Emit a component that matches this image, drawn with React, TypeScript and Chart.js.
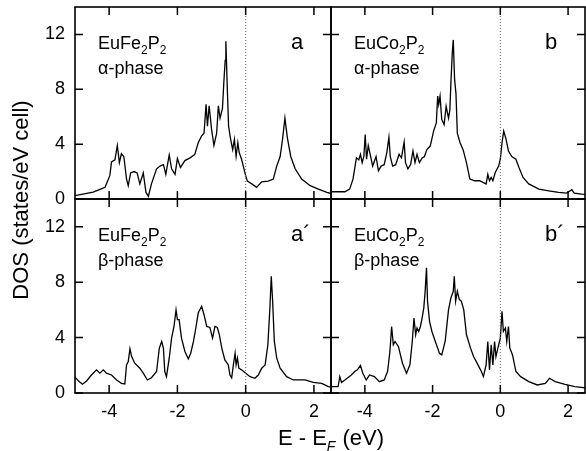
import React, { useEffect, useRef } from "react";
import { Chart, registerables } from "chart.js";

Chart.register(...registerables);

// ---------------- data ----------------
const xTickLabels = [-4, -2, 0, 2];
const yTickLabels = [0, 4, 8, 12];

const feFormula = ["EuFe", "2", "P", "2"];
const coFormula = ["EuCo", "2", "P", "2"];

// EuFe2P2 alpha-phase (a)
const feAlphaE = [-5.0,-4.47,-4.27,-4.12,-3.98,-3.93,-3.83,-3.76,-3.70,-3.64,-3.57,-3.49,-3.44,-3.37,-3.27,-3.18,-3.10,-3.00,-2.92,-2.85,-2.76,-2.61,-2.51,-2.41,-2.34,-2.24,-2.17,-2.07,-2.00,-1.91,-1.78,-1.63,-1.49,-1.39,-1.29,-1.22,-1.16,-1.12,-1.07,-1.00,-0.93,-0.85,-0.80,-0.75,-0.68,-0.64,-0.60,-0.58,-0.54,-0.50,-0.44,-0.38,-0.33,-0.28,-0.23,-0.19,-0.12,-0.05,0.00,0.05,0.18,0.32,0.47,0.66,0.81,0.91,1.01,1.08,1.15,1.22,1.32,1.45,1.64,1.89,2.13,2.38,2.50];
const feAlphaDos = [0.24,0.50,0.70,0.85,1.70,2.70,2.85,3.90,2.65,3.30,3.10,1.45,0.97,1.90,2.00,1.90,1.10,1.90,0.48,0.20,1.10,2.20,2.40,2.50,1.80,3.20,2.20,1.80,2.95,2.30,2.80,3.00,3.25,4.10,4.60,4.80,6.90,5.30,6.80,5.10,3.90,4.80,6.80,5.90,6.60,8.50,10.10,11.50,8.20,5.30,4.35,3.60,4.35,3.10,4.10,3.40,2.90,2.20,1.70,1.30,1.10,0.85,1.25,1.30,1.45,2.40,3.10,4.35,5.90,4.50,3.10,2.20,1.45,0.97,0.72,0.48,0.40];

// EuCo2P2 alpha-phase (b)
const coAlphaE = [-5.0,-4.59,-4.45,-4.35,-4.25,-4.18,-4.13,-4.08,-4.03,-3.99,-3.95,-3.90,-3.83,-3.77,-3.67,-3.60,-3.52,-3.43,-3.35,-3.29,-3.25,-3.18,-3.09,-2.99,-2.92,-2.84,-2.80,-2.73,-2.65,-2.58,-2.52,-2.46,-2.39,-2.31,-2.24,-2.17,-2.07,-1.97,-1.89,-1.85,-1.82,-1.78,-1.73,-1.66,-1.60,-1.53,-1.49,-1.46,-1.42,-1.39,-1.35,-1.31,-1.27,-1.19,-1.10,-1.00,-0.90,-0.76,-0.61,-0.47,-0.42,-0.37,-0.32,-0.27,-0.22,-0.15,-0.05,0.00,0.05,0.10,0.17,0.24,0.34,0.46,0.55,0.67,0.84,1.14,1.43,1.72,1.96,2.11,2.18,2.40,2.50];
const coAlphaDos = [0.53,0.53,0.72,1.45,3.00,2.85,3.26,2.65,3.10,4.70,2.90,3.90,3.10,2.40,3.10,2.05,2.40,2.50,3.40,4.50,3.10,2.40,2.50,3.26,3.00,4.15,2.65,2.20,2.50,3.50,2.65,3.26,2.65,3.00,3.10,3.60,3.86,4.95,5.55,7.50,6.90,7.50,5.80,5.43,6.76,5.90,6.50,8.45,10.60,11.60,8.70,7.70,4.80,4.10,3.60,2.65,1.45,1.33,1.33,1.16,1.10,1.80,1.33,1.57,1.33,1.93,2.40,2.90,4.10,4.95,4.35,3.50,3.10,2.90,2.30,1.57,1.10,0.72,0.60,0.48,0.43,0.68,0.43,0.36,0.34];

// EuFe2P2 beta-phase (a')
const feBetaE = [-5.0,-4.88,-4.78,-4.66,-4.52,-4.37,-4.27,-4.17,-4.08,-3.93,-3.78,-3.64,-3.54,-3.49,-3.44,-3.39,-3.34,-3.25,-3.10,-3.00,-2.88,-2.76,-2.61,-2.53,-2.46,-2.41,-2.37,-2.32,-2.24,-2.17,-2.10,-2.04,-2.00,-1.95,-1.88,-1.78,-1.68,-1.61,-1.53,-1.46,-1.39,-1.29,-1.22,-1.14,-1.05,-0.97,-0.90,-0.83,-0.77,-0.70,-0.61,-0.51,-0.46,-0.41,-0.36,-0.31,-0.28,-0.24,-0.20,-0.12,0.00,0.13,0.27,0.37,0.47,0.57,0.65,0.71,0.75,0.79,0.84,0.91,1.01,1.20,1.40,1.74,1.98,2.23,2.42,2.50];
const feBetaDos = [1.15,0.82,0.63,0.87,1.30,1.67,1.43,1.67,1.43,1.30,0.94,0.70,0.65,2.03,2.27,3.19,2.63,2.15,1.79,1.43,0.94,1.10,1.55,3.24,3.72,3.24,1.55,1.18,2.51,3.96,4.80,6.00,5.30,5.30,3.96,3.00,2.46,2.87,3.72,4.69,5.77,6.26,5.65,4.80,4.73,3.96,4.80,4.73,4.20,3.24,2.39,2.03,1.30,1.10,2.03,2.87,2.03,2.51,1.79,1.67,1.43,1.18,1.06,1.30,1.79,2.03,3.48,6.14,8.43,6.62,3.72,2.51,1.79,1.18,0.94,0.94,0.77,0.70,0.46,0.42];

// EuCo2P2 beta-phase (b')
const coBetaE = [-5.0,-4.79,-4.74,-4.69,-4.59,-4.40,-4.30,-4.22,-4.13,-4.06,-3.96,-3.86,-3.72,-3.57,-3.43,-3.33,-3.26,-3.21,-3.16,-3.11,-3.01,-2.89,-2.77,-2.67,-2.60,-2.55,-2.50,-2.46,-2.41,-2.36,-2.31,-2.26,-2.22,-2.18,-2.15,-2.09,-2.02,-1.92,-1.85,-1.80,-1.73,-1.63,-1.53,-1.46,-1.39,-1.36,-1.32,-1.27,-1.21,-1.15,-1.08,-1.00,-0.88,-0.79,-0.66,-0.56,-0.50,-0.42,-0.37,-0.32,-0.27,-0.22,-0.17,-0.13,-0.06,0.00,0.05,0.09,0.15,0.19,0.24,0.28,0.36,0.46,0.60,0.84,1.09,1.33,1.45,1.62,1.91,2.20,2.45,2.50];
const coBetaDos = [0.46,0.46,1.18,0.77,0.94,1.30,1.55,1.67,1.98,1.43,0.94,1.30,1.18,0.82,0.94,1.55,3.00,4.80,3.48,3.72,3.36,2.15,1.43,2.03,3.72,5.41,4.20,4.69,4.44,4.80,5.41,6.14,7.34,9.03,6.62,5.17,4.44,3.72,3.24,2.87,2.75,3.72,6.00,6.86,7.34,8.43,6.62,7.34,6.74,6.62,6.00,4.20,3.24,2.63,2.03,1.55,1.18,2.03,3.72,1.67,3.48,2.03,3.72,2.63,3.36,3.96,5.89,4.44,4.69,3.72,4.80,3.24,2.75,1.55,1.18,0.82,0.58,0.70,1.06,0.82,0.63,0.46,0.39,0.38];

// ---------------- layout / style ----------------
const W = 586;
const H = 451;
const FONT = "'Liberation Sans', Arial, Helvetica, sans-serif";
const YW = 50; // forced y-axis width
const XH = 40; // forced x-axis height

type PanelDef = {
  E: number[]; D: number[];
  L: number; T: number; R: number; B: number;
  showX: boolean; showY: boolean;
  formula: string[]; phase: string; letter: string; titles: boolean;
};

const PANELS: PanelDef[] = [
  { E: feAlphaE, D: feAlphaDos, L: 75, T: 7, R: 331, B: 199, showX: false, showY: true, formula: feFormula, phase: "\u03B1-phase", letter: "a", titles: true },
  { E: coAlphaE, D: coAlphaDos, L: 331, T: 7, R: 585, B: 199, showX: false, showY: false, formula: coFormula, phase: "\u03B1-phase", letter: "b", titles: false },
  { E: feBetaE, D: feBetaDos, L: 75, T: 199, R: 331, B: 393, showX: true, showY: true, formula: feFormula, phase: "\u03B2-phase", letter: "a\u00B4", titles: false },
  { E: coBetaE, D: coBetaDos, L: 331, T: 199, R: 585, B: 393, showX: true, showY: false, formula: coFormula, phase: "\u03B2-phase", letter: "b\u00B4", titles: false },
];

function drawFormula(ctx: CanvasRenderingContext2D, parts: string[], x: number, y: number) {
  let cx = x;
  parts.forEach((txt, i) => {
    const sub = i % 2 === 1;
    ctx.font = `${sub ? 12 : 18}px ${FONT}`;
    ctx.fillText(txt, cx, sub ? y + 5 : y);
    cx += ctx.measureText(txt).width;
  });
}

const framePlugin = {
  id: "frame",
  afterDatasetsDraw(chart: any, _args: any, opts: any) {
    const p: PanelDef = opts.panel;
    const { ctx, chartArea, scales } = chart;
    const { left, right, top, bottom } = chartArea;
    const x = scales.x;
    const y = scales.y;
    ctx.save();
    // dotted Fermi level line
    const x0 = x.getPixelForValue(0);
    ctx.strokeStyle = "#666";
    ctx.lineWidth = 1;
    ctx.setLineDash([1, 2]);
    ctx.beginPath();
    ctx.moveTo(x0, top);
    ctx.lineTo(x0, bottom);
    ctx.stroke();
    ctx.setLineDash([]);
    // inward ticks
    ctx.strokeStyle = "#000";
    ctx.lineWidth = 1.5;
    ctx.beginPath();
    x.ticks.forEach((t: any) => {
      const px = x.getPixelForValue(t.value);
      const len = t.value % 2 === 0 ? 8 : 5;
      ctx.moveTo(px, bottom); ctx.lineTo(px, bottom - len);
      ctx.moveTo(px, top); ctx.lineTo(px, top + len);
    });
    y.ticks.forEach((t: any) => {
      const py = y.getPixelForValue(t.value);
      const len = t.value % 4 === 0 ? 8 : 5;
      ctx.moveTo(left, py); ctx.lineTo(left + len, py);
      ctx.moveTo(right, py); ctx.lineTo(right - len, py);
    });
    ctx.stroke();
    // frame
    ctx.lineWidth = 1.6;
    ctx.strokeRect(left, top, right - left, bottom - top);
    // labels
    ctx.fillStyle = "#000";
    ctx.textAlign = "left";
    ctx.textBaseline = "alphabetic";
    drawFormula(ctx, p.formula, left + 23, top + 42);
    ctx.font = `18px ${FONT}`;
    ctx.fillText(p.phase, left + 23, top + 67);
    ctx.font = `22px ${FONT}`;
    ctx.fillText(p.letter, right - 40, top + 42);
    if (p.titles) {
      // y-axis title
      ctx.save();
      ctx.translate(22, 200);
      ctx.rotate(-Math.PI / 2);
      ctx.textAlign = "center";
      ctx.textBaseline = "middle";
      ctx.font = `22px ${FONT}`;
      ctx.fillText("DOS (states/eV cell)", 0, 0);
      ctx.restore();
      // x-axis title
      const big = `22px ${FONT}`;
      const small = `italic 14px ${FONT}`;
      ctx.font = big;
      const w1 = ctx.measureText("E - E").width;
      const w3 = ctx.measureText(" (eV)").width;
      ctx.font = small;
      const w2 = ctx.measureText("F").width + 1;
      const total = w1 + w2 + w3;
      let cx = 331 - total / 2;
      const by = 445;
      ctx.textAlign = "left";
      ctx.textBaseline = "alphabetic";
      ctx.font = big;
      ctx.fillText("E - E", cx, by);
      cx += w1;
      ctx.font = small;
      ctx.fillText("F", cx, by + 6);
      cx += w2;
      ctx.font = big;
      ctx.fillText(" (eV)", cx, by);
    }
    ctx.restore();
  },
};

function zeroPadding(s: any) {
  s.paddingTop = 0;
  s.paddingBottom = 0;
  s.paddingLeft = 0;
  s.paddingRight = 0;
}

function Panel({ def }: { def: PanelDef }) {
  const ref = useRef<HTMLCanvasElement | null>(null);
  useEffect(() => {
    if (!ref.current) return;
    const points = def.E.map((e, i) => ({ x: e, y: def.D[i] }));
    const chart = new Chart(ref.current, {
      type: "line",
      data: {
        datasets: [
          {
            data: points,
            borderColor: "#000",
            borderWidth: 1.3,
            pointRadius: 0,
            tension: 0,
            fill: false,
          },
        ],
      },
      options: {
        animation: false,
        responsive: false,
        devicePixelRatio: 1,
        parsing: false,
        normalized: true,
        layout: {
          padding: {
            left: def.L - YW,
            right: W - def.R,
            top: def.T,
            bottom: H - def.B - XH,
          },
        },
        plugins: {
          legend: { display: false },
          tooltip: { enabled: false },
          frame: { panel: def },
        } as any,
        scales: {
          x: {
            type: "linear",
            min: -5,
            max: 2.5,
            grid: { display: false, drawTicks: false },
            border: { display: false },
            afterFit: (s: any) => { s.height = XH; zeroPadding(s); },
            ticks: {
              display: def.showX,
              stepSize: 1,
              includeBounds: false,
              autoSkip: false,
              maxRotation: 0,
              padding: 8,
              color: "#000",
              font: { family: FONT, size: 18 },
              callback: (v: any) => (xTickLabels.includes(Number(v)) ? String(v) : null),
            },
          },
          y: {
            type: "linear",
            min: 0,
            max: 14,
            grid: { display: false, drawTicks: false },
            border: { display: false },
            afterFit: (s: any) => { s.width = YW; zeroPadding(s); },
            ticks: {
              display: def.showY,
              stepSize: 2,
              includeBounds: false,
              autoSkip: false,
              padding: 10,
              color: "#000",
              font: { family: FONT, size: 18 },
              callback: (v: any) => (yTickLabels.includes(Number(v)) ? String(v) : null),
            },
          },
        },
      } as any,
      plugins: [framePlugin as any],
    });
    return () => chart.destroy();
  }, [def]);
  return (
    <canvas
      ref={ref}
      width={W}
      height={H}
      style={{ position: "absolute", left: 0, top: 0, width: W, height: H }}
    />
  );
}

export default function App() {
  return (
    <div style={{ position: "fixed", left: 0, top: 0, width: W, height: H, background: "#fff", overflow: "hidden" }}>
      {PANELS.map((p, i) => (
        <Panel key={i} def={p} />
      ))}
    </div>
  );
}
